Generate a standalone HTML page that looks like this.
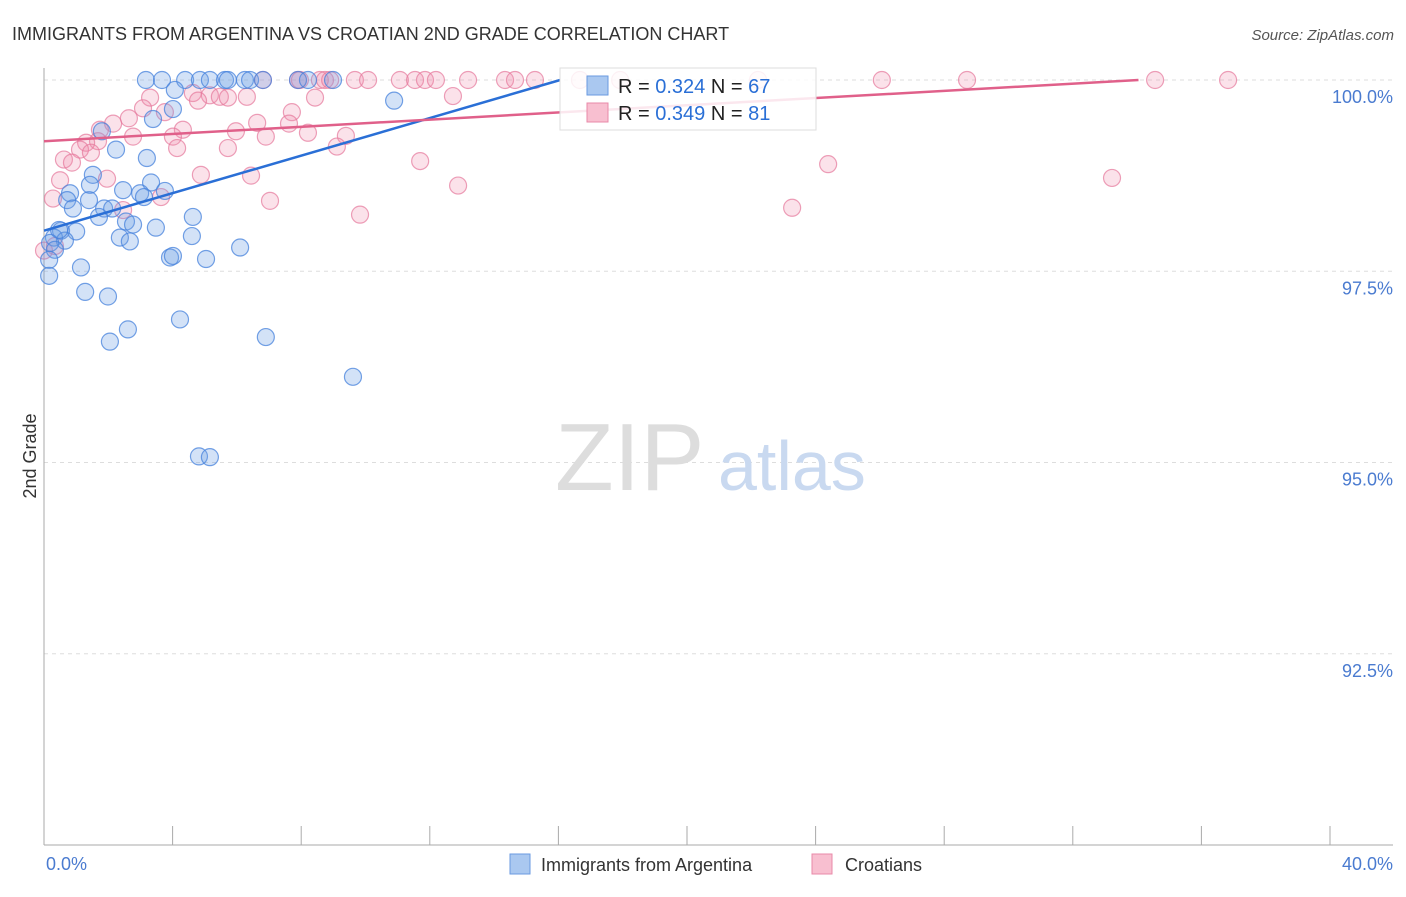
<!DOCTYPE html>
<html><head><meta charset="utf-8"><style>
body{margin:0;background:#fff;font-family:"Liberation Sans",sans-serif;}
svg text{font-family:"Liberation Sans",sans-serif;}
</style></head><body>
<svg width="1406" height="892" viewBox="0 0 1406 892">
<text x="12" y="40" font-size="18" fill="#333">IMMIGRANTS FROM ARGENTINA VS CROATIAN 2ND GRADE CORRELATION CHART</text>
<text x="1394" y="40" font-size="15" fill="#555" text-anchor="end" font-style="italic">Source: ZipAtlas.com</text>
<g id="grid"></g>
<g id="axes"></g>
<text x="555" y="490" font-size="96" fill="#ddd" font-family="Liberation Serif">ZIP</text>
<text x="718" y="490" font-size="70" fill="#c9d9f0">atlas</text>
<g id="pts"></g>
<g id="trend"></g>
<g>
<rect x="560" y="68" width="256" height="62" fill="#fff" fill-opacity="0.85" stroke="#ddd"/>
<rect x="587" y="76" width="21" height="19" fill="#aac8f0" stroke="#6a9ae0"/>
<rect x="587" y="103" width="21" height="19" fill="#f8bfd0" stroke="#e88aa8"/>
<text x="618" y="93" font-size="20" fill="#222">R = <tspan fill="#2a6fd6">0.324</tspan>   N = <tspan fill="#2a6fd6">67</tspan></text>
<text x="618" y="120" font-size="20" fill="#222">R = <tspan fill="#2a6fd6">0.349</tspan>   N = <tspan fill="#2a6fd6"> 81</tspan></text>
</g>
<text x="36" y="456" font-size="18" fill="#333" transform="rotate(-90 36 456)" text-anchor="middle">2nd Grade</text>
<text x="46" y="870" font-size="18" fill="#4a7bd0">0.0%</text>
<text x="1393" y="870" font-size="18" fill="#4a7bd0" text-anchor="end">40.0%</text>
<g>
<rect x="510" y="854" width="20" height="20" fill="#aac8f0" stroke="#6a9ae0"/>
<text x="541" y="871" font-size="18" fill="#333">Immigrants from Argentina</text>
<rect x="812" y="854" width="20" height="20" fill="#f8bfd0" stroke="#e88aa8"/>
<text x="845" y="871" font-size="18" fill="#333">Croatians</text>
</g>
</svg>
<script>
const blueX=[3.17,3.67,4.39,4.85,5.16,5.63,5.72,6.25,6.41,6.81,7.90,8.21,8.99,4.07,10.89,4.01,3.39,2.24,3.20,1.80,1.52,3.33,2.46,2.99,0.81,3.76,0.72,1.40,3.11,0.90,1.87,2.12,1.71,4.63,2.55,2.77,3.48,0.53,1.00,0.31,0.65,4.60,2.36,2.67,0.19,6.10,0.34,3.92,4.01,5.04,1.15,0.16,1.28,1.99,4.23,2.61,2.05,6.90,9.61,4.82,5.16,0.16,1.43,0.47];
const blueY=[100,100,100,100,100,100,100,100,100,100,100,100,100,99.87,99.73,99.62,99.49,99.09,98.98,99.33,98.76,98.66,98.56,98.52,98.52,98.55,98.43,98.43,98.47,98.32,98.32,98.32,98.21,98.21,98.15,98.11,98.07,98.03,98.02,97.94,97.90,97.96,97.94,97.89,97.87,97.81,97.78,97.68,97.70,97.66,97.55,97.44,97.23,97.17,96.87,96.74,96.58,96.64,96.12,95.08,95.07,97.65,98.63,98.04];
const pinkX=[6.81,7.90,7.96,8.58,8.74,8.90,9.67,10.08,11.07,11.54,11.85,12.19,13.19,14.34,14.65,15.27,16.67,17.92,22.21,26.06,28.71,34.56,36.83,4.63,5.16,5.47,6.31,3.30,4.79,5.72,8.43,12.72,3.08,3.76,7.71,2.64,6.63,2.15,5.97,7.62,1.74,4.32,4.01,2.77,6.90,8.21,9.39,1.68,1.31,1.12,1.46,4.14,5.72,9.11,0.62,0.87,11.70,24.39,1.96,0.50,4.88,6.44,12.88,33.22,0.28,3.64,7.03,9.83,23.27,2.46,0.0,0.34];
const pinkY=[100,100,100,100,100,100,100,100,100,100,100,100,100,100,100,100,100,100,100,100,100,100,100,99.83,99.80,99.78,99.78,99.77,99.73,99.77,99.77,99.79,99.63,99.58,99.58,99.50,99.44,99.43,99.33,99.43,99.35,99.35,99.26,99.26,99.26,99.31,99.27,99.20,99.18,99.09,99.05,99.11,99.11,99.13,98.96,98.92,98.94,98.90,98.71,98.69,98.76,98.75,98.62,98.72,98.45,98.47,98.42,98.24,98.33,98.30,97.77,97.83];
const yTicks=[100,97.5,95,92.5];
const yTickLabels=["100.0%","97.5%","95.0%","92.5%"];
const xTicks=[0,4,8,12,16,20,24,28,32,36,40];
const blueTrend=[98.03,0.1227];
const pinkTrend=[99.20,0.0235];
const X0=44,X1=1330,Y0=845,Y1=80;
const sx=v=>X0+(v/40)*(X1-X0);
const sy=v=>Y0-(v-90)/10*(Y0-Y1);
const NS="http://www.w3.org/2000/svg";
function mk(t,a,p){const e=document.createElementNS(NS,t);for(const k in a)e.setAttribute(k,a[k]);p.appendChild(e);return e;}
const grid=document.getElementById('grid'),axes=document.getElementById('axes'),pts=document.getElementById('pts'),trend=document.getElementById('trend');
yTicks.forEach((v,i)=>{
  const l=mk('line',{x1:X0,x2:1393,y1:sy(v),y2:sy(v),stroke:'#ddd','stroke-dasharray':'4,4'},grid);
  
  
  const t=mk('text',{x:1393,y:sy(v)+23,'font-size':18,fill:'#4a7bd0','text-anchor':'end'},grid);
  t.textContent=yTickLabels[i];
  
  
});
mk('line',{x1:X0,x2:X0,y1:68,y2:Y0,stroke:'#aaa'},axes);
mk('line',{x1:X0,x2:1393,y1:Y0,y2:Y0,stroke:'#aaa'},axes);
xTicks.forEach(v=>{
  const l=mk('line',{x1:sx(v),x2:sx(v),y1:826,y2:Y0,stroke:'#aaa'},axes);
  
  
});
pinkX.forEach((x,i)=>{
  const c=mk('circle',{cx:sx(x),cy:sy(pinkY[i]),r:8.5,fill:'rgba(240,140,170,0.25)',stroke:'rgba(230,120,155,0.7)','stroke-width':1.2},pts);
  
  
});
blueX.forEach((x,i)=>{
  const c=mk('circle',{cx:sx(x),cy:sy(blueY[i]),r:8.5,fill:'rgba(110,160,230,0.3)',stroke:'rgba(70,130,220,0.75)','stroke-width':1.2},pts);
  
  
});
[[blueTrend,'#2a6fd6','argentina-trend-line'],[pinkTrend,'#e0608a','croatians-trend-line']].forEach(([tr,col,nm])=>{
  const xe=Math.min(40,(100-tr[0])/tr[1]);
  const l=mk('line',{x1:sx(0),y1:sy(tr[0]),x2:sx(xe),y2:sy(tr[0]+tr[1]*xe),stroke:col,'stroke-width':2.5},trend);
  
  
});
</script>
</body></html>
